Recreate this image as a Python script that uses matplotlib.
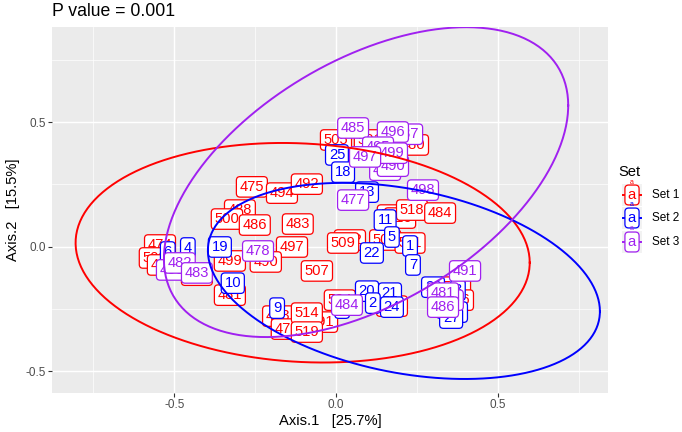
import numpy as np
import matplotlib
matplotlib.use("Agg")
import matplotlib.pyplot as plt
from matplotlib.patches import FancyBboxPatch

plt.rcParams['font.family'] = ['Liberation Sans', 'DejaVu Sans']
plt.rcParams['axes.unicode_minus'] = False

# PCoA scores, one group per set
set1_x = [0.000, 0.105, 0.238, -0.260, -0.167, -0.090, -0.297, -0.337, -0.251, -0.118,
          -0.136, -0.328, -0.217, -0.059, 0.043, 0.022, -0.544, -0.560, -0.328, -0.430,
          -0.535, -0.179, -0.152, -0.043, -0.090, -0.090, 0.012, 0.176, 0.198, 0.235,
          0.322, 0.152, 0.229, 0.368, 0.377, 0.173]
set1_y = [0.428, 0.428, 0.408, 0.240, 0.215, 0.251, 0.147, 0.111, 0.087, 0.091,
          -0.001, -0.057, -0.061, -0.097, 0.027, 0.015, 0.007, -0.045, -0.194, -0.114,
          -0.073, -0.278, -0.330, -0.302, -0.266, -0.342, -0.214, 0.127, 0.115, 0.147,
          0.135, 0.027, 0.015, -0.162, -0.214, -0.238]
set1_lab = ['505', '501', '480', '475', '494', '492', '488', '500', '486', '483',
            '497', '499', '490', '507', '502', '509', '474', '503', '481', '489',
            '476', '493', '477', '491', '514', '519', '504', '506', '510', '518',
            '484', '508', '511', '517', '516', '487']

set2_x = [0.003, 0.022, 0.096, 0.152, 0.173, 0.229, 0.111, 0.238, -0.359, -0.319,
          -0.458, -0.520, -0.182, 0.096, 0.167, 0.114, 0.173, 0.019, 0.300, 0.377,
          0.346, 0.371, 0.356]
set2_y = [0.368, 0.299, 0.219, 0.107, 0.039, 0.003, -0.025, -0.073, -0.001, -0.146,
          -0.005, -0.021, -0.246, -0.178, -0.186, -0.226, -0.242, -0.246, -0.162, -0.174,
          -0.246, -0.262, -0.286]
set2_lab = ['25', '18', '13', '11', '5', '1', '22', '7', '19', '10',
            '4', '6', '9', '20', '21', '2', '24', '8', '23', '3',
            '12', '26', '27']

set3_x = [0.220, 0.176, 0.053, 0.130, 0.152, 0.176, 0.173, 0.090, 0.053, 0.269,
          -0.241, -0.507, -0.483, -0.430, 0.034, 0.399, 0.346, 0.331, 0.331]
set3_y = [0.451, 0.460, 0.476, 0.399, 0.307, 0.323, 0.375, 0.360, 0.187, 0.227,
          -0.017, -0.093, -0.065, -0.105, -0.234, -0.097, -0.214, -0.186, -0.242]
set3_lab = ['487', '496', '485', '495', '489', '490', '499', '497', '477', '498',
            '478', '480', '482', '483', '484', '491', '488', '481', '486']

set_names = ['Set 1', 'Set 2', 'Set 3']
set_colors = ['#FF0000', '#0000FF', '#A020F0']

# 95% ellipse per set: centre, x spread, y spread, correlation
ell_cx = [-0.103, 0.210, 0.093]
ell_cy = [-0.024, -0.137, 0.259]
ell_sx = [0.702, 0.606, 0.625]
ell_sy = [0.440, 0.393, 0.621]
ell_r = [-0.09, -0.31, 0.495]

fig = plt.figure(figsize=(6.82, 4.32), dpi=100)
ax = fig.add_axes([52.3 / 682, 1 - 392.7 / 432, (608 - 52.3) / 682, (392.7 - 26.7) / 432])
ax.set_facecolor('#EBEBEB')
for s in ax.spines.values():
    s.set_visible(False)

ax.set_xlim(-0.877, 0.841)
ax.set_ylim(-0.585, 0.882)
ax.set_xticks([-0.5, 0.0, 0.5])
ax.set_yticks([-0.5, 0.0, 0.5])
ax.set_xticks([-0.75, -0.25, 0.25, 0.75], minor=True)
ax.set_yticks([-0.25, 0.25, 0.75], minor=True)
ax.grid(which='major', color='white', lw=1.05)
ax.grid(which='minor', color='white', lw=0.5)
ax.set_axisbelow(True)
ax.tick_params(which='major', length=2.7, width=0.8, color='#333333',
               labelsize=8.45, labelcolor='#4D4D4D', pad=2)
ax.tick_params(which='minor', length=0)

groups = [(set1_x, set1_y, set1_lab), (set2_x, set2_y, set2_lab), (set3_x, set3_y, set3_lab)]
z = 3
for (gx, gy, gl), col in zip(groups, set_colors):
    for xx, yy, ll in zip(gx, gy, gl):
        ax.text(xx, yy, ll, color=col, fontsize=10.6, ha='center', va='center',
                zorder=z,
                bbox=dict(boxstyle='round,pad=0.22,rounding_size=0.25', fc='white',
                          ec=col, lw=0.9))
        z += 0.01

t = np.linspace(0, 2 * np.pi, 300)
for cx, cy, sx, sy, r, col in zip(ell_cx, ell_cy, ell_sx, ell_sy, ell_r, set_colors):
    cov = np.array([[sx ** 2, r * sx * sy], [r * sx * sy, sy ** 2]])
    L = np.linalg.cholesky(cov)
    pts = L @ np.vstack([np.cos(t), np.sin(t)])
    ax.plot(cx + pts[0], cy + pts[1], color=col, lw=1.4, zorder=10)

ax.set_xlabel('Axis.1   [25.7%]', fontsize=10.6, labelpad=2)
ax.set_ylabel('Axis.2   [15.5%]', fontsize=10.6, labelpad=4)
fig.text(52.5 / 682, 1 - 12 / 432, 'P value = 0.001', fontsize=12.7, ha='left', va='center')

# legend drawn by hand
fig.text(618 / 682, 1 - 172 / 432, 'Set', fontsize=10.6, ha='left', va='center')
key_y = [195, 218, 242]
for ky, nm, col in zip(key_y, set_names, set_colors):
    bx, by = 622 / 682, 1 - (ky + 11) / 432
    fig.patches.append(FancyBboxPatch((bx, by), 20 / 682, 22 / 432, boxstyle='square,pad=0',
                                      fc='#F2F2F2', ec='none', transform=fig.transFigure))
    fig.text(632 / 682, 1 - ky / 432, 'a', color=col, fontsize=10.6, ha='center', va='center',
             bbox=dict(boxstyle='round,pad=0.2,rounding_size=0.25', fc='white', ec=col, lw=0.9))
    fig.lines.append(plt.Line2D([623 / 682, 641 / 682], [1 - ky / 432, 1 - ky / 432],
                                color=col, lw=1.4, transform=fig.transFigure))
    fig.text(632 / 682, 1 - (ky - 13) / 432, 'a', color=col, fontsize=5, ha='center', va='center')
    fig.text(652 / 682, 1 - ky / 432, nm, fontsize=8.45, ha='left', va='center')

fig.savefig('out.png', dpi=100)
